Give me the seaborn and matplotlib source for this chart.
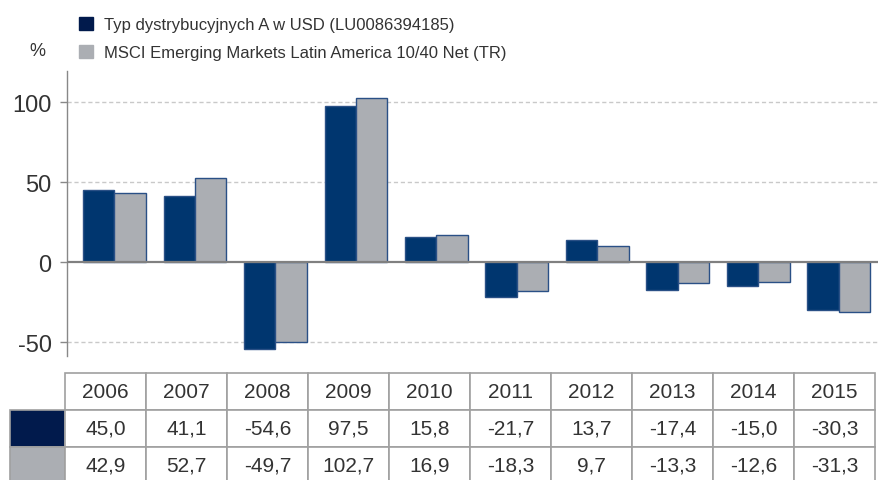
import numpy as np
import pandas as pd
import matplotlib
matplotlib.use("Agg")
import matplotlib.pyplot as plt
import seaborn as sns
from matplotlib.patches import Patch

years = ["2006", "2007", "2008", "2009", "2010", "2011", "2012", "2013", "2014", "2015"]
fund = [45.0, 41.1, -54.6, 97.5, 15.8, -21.7, 13.7, -17.4, -15.0, -30.3]
index = [42.9, 52.7, -49.7, 102.7, 16.9, -18.3, 9.7, -13.3, -12.6, -31.3]
series_names = ["Typ dystrybucyjnych A w USD (LU0086394185)",
                "MSCI Emerging Markets Latin America 10/40 Net (TR)"]
yticks = [-50, 0, 50, 100]

dark = "#00366f"
gray = "#abaeb3"
table_dark = "#011a4c"
text_col = "#333333"

sns.set_theme(style="white")
plt.rcParams["font.family"] = ["Liberation Sans", "DejaVu Sans"]

df = pd.DataFrame({
    "year": years * 2,
    "value": fund + index,
    "series": [series_names[0]] * len(years) + [series_names[1]] * len(years),
})

W, H = 879, 481
fig = plt.figure(figsize=(W / 100, H / 100), dpi=100)
ax = fig.add_axes([67 / W, (H - 357) / H, (W - 67) / W, 285 / H])

sns.barplot(data=df, x="year", y="value", hue="series", hue_order=series_names,
            palette=[dark, gray], saturation=1, width=0.78, edgecolor="#2a5086",
            linewidth=1, legend=False, ax=ax, zorder=2)

ax.set_xlim(-0.59, 9.5)
ax.set_ylim(-58.75, 119.4)
ax.set_yticks(yticks)
ax.set_yticklabels([str(v) for v in yticks], fontsize=17, color=text_col)
ax.tick_params(axis="y", length=5, width=1, color="#888888", pad=6, left=True)
ax.set_xticks([])
ax.set_xlabel("")
ax.set_ylabel("")
for s in ["top", "right", "bottom"]:
    ax.spines[s].set_visible(False)
ax.spines["left"].set_color("#888888")
ax.spines["left"].set_linewidth(1)
for v in yticks:
    if v != 0:
        ax.axhline(v, color="#c9c9c9", lw=1, ls=(0, (3, 2)), zorder=0)
ax.axhline(0, color="#808080", lw=1.6, zorder=3)

# legend
handles = [Patch(facecolor=table_dark, edgecolor=table_dark),
           Patch(facecolor=gray, edgecolor=gray)]
fig.legend(handles, series_names, loc="upper left", bbox_to_anchor=(64 / W, 1 - 3 / H),
           frameon=False, fontsize=12, handlelength=0.85, handleheight=0.85,
           handletextpad=0.65, labelspacing=0.75, labelcolor=text_col)
fig.text(37 / W, 1 - 52 / H, "%", fontsize=13, color=text_col, ha="center", va="center")

# data table
tax = fig.add_axes([10 / W, -4 / H, 865 / W, 111 / H])
tax.axis("off")
cell_text = [[""] + [f"{v:.1f}".replace(".", ",") for v in fund],
             [""] + [f"{v:.1f}".replace(".", ",") for v in index]]
cell_colours = [[table_dark] + ["white"] * len(years),
                [gray] + ["white"] * len(years)]
col_widths = [55 / 865] + [81 / 865] * len(years)
tbl = tax.table(cellText=cell_text, cellColours=cell_colours, colLabels=[""] + years,
                colWidths=col_widths, cellLoc="center", colLoc="center",
                bbox=[0, 0, 1, 1])
tbl.auto_set_font_size(False)
for (r, c), cell in tbl.get_celld().items():
    cell.set_edgecolor("#a0a0a0")
    cell.set_linewidth(1.2)
    cell.get_text().set_fontsize(15)
    cell.get_text().set_color(text_col)
tbl[(0, 0)].set_visible(False)

fig.savefig("out.png", dpi=100)
